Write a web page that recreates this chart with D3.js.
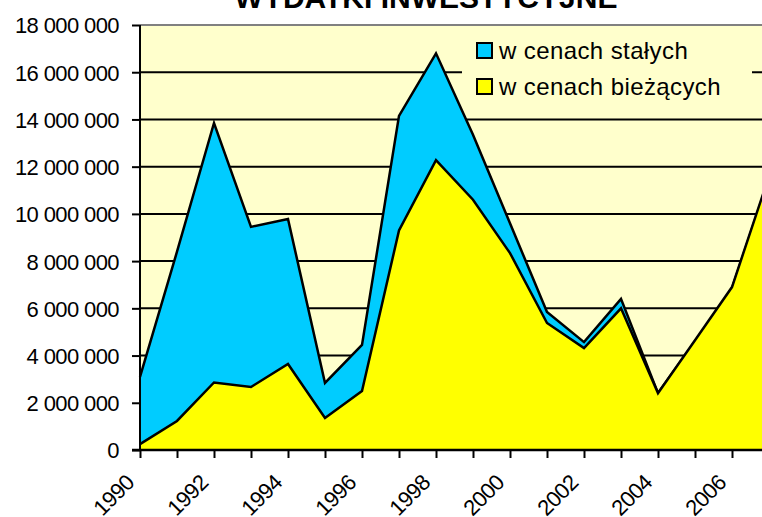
<!DOCTYPE html>
<html>
<head>
<meta charset="utf-8">
<script src="https://cdn.jsdelivr.net/npm/d3@7"></script>
<style>
  html, body { margin: 0; padding: 0; background: #fff; }
  svg { display: block; font-family: "Liberation Sans", Arial, sans-serif; }
</style>
</head>
<body>
<div id="chart"></div>
<script>
// values
const years = d3.range(1990, 2008);
const stale = [3100000, 8400000, 13850000, 9450000, 9780000, 2840000, 4450000, 14150000, 16800000,
               13350000, 9600000, 5850000, 4570000, 6400000, 2410000, 4600000, 6850000, 11500000];
const biezace = [250000, 1230000, 2860000, 2670000, 3640000, 1360000, 2500000, 9300000, 12280000,
                 10600000, 8340000, 5380000, 4320000, 6000000, 2410000, 4650000, 6900000, 11600000];
const yTicks = d3.range(0, 18000001, 2000000);
const seriesNames = ['w cenach stałych', 'w cenach bieżących'];
const title = 'WYDATKI INWESTYCYJNE';

const CONF = {
  width: 762,
  height: 517,
  plot: { left: 140, top: 25, bottom: 450, right: 769 },
  colors: { stale: '#00CCFF', biezace: '#FFFF00', bg: '#FFFFCC' }
};

const { plot } = CONF;
const svg = d3.select('#chart').append('svg')
  .attr('width', CONF.width)
  .attr('height', CONF.height);

const x = d3.scaleLinear().domain([1990, 2007]).range([plot.left, plot.right]);
const y = d3.scaleLinear().domain([0, 18000000]).range([plot.bottom, plot.top]);

// plot background
svg.append('rect')
  .attr('x', plot.left).attr('y', plot.top)
  .attr('width', plot.right - plot.left).attr('height', plot.bottom - plot.top)
  .attr('fill', CONF.colors.bg);

// top border of the plot area
svg.append('line')
  .attr('x1', plot.left).attr('x2', plot.right)
  .attr('y1', plot.top).attr('y2', plot.top)
  .attr('stroke', '#808080').attr('stroke-width', 2);

// gridlines
svg.append('g').selectAll('line')
  .data(yTicks.filter(d => d > 0 && d < 18000000))
  .join('line')
  .attr('x1', plot.left).attr('x2', plot.right)
  .attr('y1', d => y(d)).attr('y2', d => y(d))
  .attr('stroke', '#000').attr('stroke-width', 2);

// legend box sits under the areas but over the gridlines
const legend = svg.append('g');
legend.append('rect')
  .attr('x', 462).attr('y', 30).attr('width', 290).attr('height', 78)
  .attr('fill', CONF.colors.bg);

const area = (vals) => d3.area()
  .x((d, i) => x(years[i]))
  .y0(y(0))
  .y1(d => y(d))(vals);
const line = (vals) => d3.line()
  .x((d, i) => x(years[i]))
  .y(d => y(d))(vals);

[[stale, CONF.colors.stale], [biezace, CONF.colors.biezace]].forEach(([vals, col]) => {
  svg.append('path').attr('d', area(vals)).attr('fill', col);
  svg.append('path').attr('d', line(vals))
    .attr('fill', 'none').attr('stroke', '#000')
    .attr('stroke-width', 2.5).attr('stroke-linejoin', 'miter');
});

// axes
const fmt = d3.formatLocale({ decimal: ',', thousands: ' ', grouping: [3], currency: ['', ''] }).format(',');

const yAxis = svg.append('g')
  .attr('transform', `translate(${plot.left},0)`)
  .call(d3.axisLeft(y).tickValues(yTicks).tickSize(8).tickPadding(13).tickFormat(d => fmt(d)));
yAxis.select('.domain').remove();
yAxis.selectAll('.tick line').attr('stroke', '#000').attr('stroke-width', 2);
yAxis.selectAll('.tick text')
  .style('font-size', '22px').style('letter-spacing', '-0.6px')
  .attr('fill', '#000').attr('dy', '0.36em');

const xAxis = svg.append('g')
  .attr('transform', `translate(0,${plot.bottom})`)
  .call(d3.axisBottom(x).tickValues(years).tickSize(8).tickFormat(d => d % 2 === 0 ? d : ''));
xAxis.select('.domain').remove();
xAxis.selectAll('.tick line').attr('stroke', '#000').attr('stroke-width', 2);
xAxis.selectAll('.tick text')
  .style('font-size', '22px').style('letter-spacing', '-0.6px')
  .attr('fill', '#000')
  .attr('text-anchor', 'end')
  .attr('y', 0).attr('dy', 0)
  .attr('transform', 'translate(-5,34) rotate(-45)');

// axis lines
svg.append('line')
  .attr('x1', plot.left).attr('x2', plot.left)
  .attr('y1', plot.top).attr('y2', plot.bottom + 1)
  .attr('stroke', '#000').attr('stroke-width', 2);
svg.append('line')
  .attr('x1', plot.left - 8).attr('x2', plot.right)
  .attr('y1', plot.bottom).attr('y2', plot.bottom)
  .attr('stroke', '#000').attr('stroke-width', 2.5);

// legend entries
const items = legend.selectAll('g.item')
  .data(seriesNames)
  .join('g').attr('class', 'item')
  .attr('transform', (d, i) => `translate(477,${43 + i * 36})`);
items.append('rect')
  .attr('width', 15).attr('height', 15)
  .attr('fill', (d, i) => i === 0 ? CONF.colors.stale : CONF.colors.biezace)
  .attr('stroke', '#000').attr('stroke-width', 2);
items.append('text')
  .attr('x', 22).attr('y', 16)
  .style('font-size', '24px').style('letter-spacing', '0.4px')
  .text(d => d);

// title, partly cut off at the top
svg.append('text')
  .attr('x', 426).attr('y', 8)
  .attr('text-anchor', 'middle')
  .style('font-size', '30px').style('font-weight', 'bold')
  .text(title);
</script>
</body>
</html>
